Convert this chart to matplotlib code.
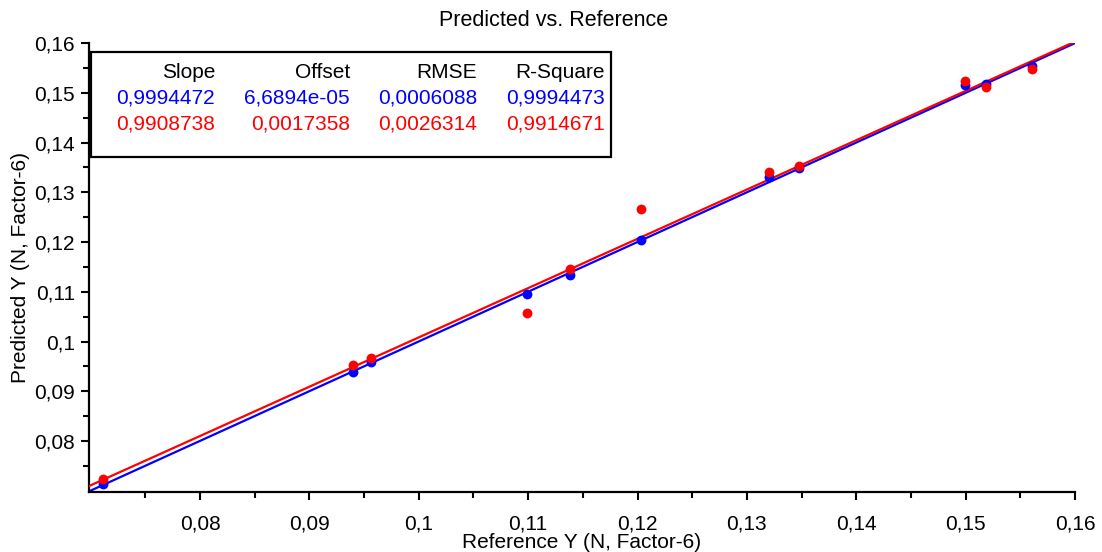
import numpy as np
import matplotlib.pyplot as plt
from matplotlib.patches import Rectangle
from matplotlib.ticker import FuncFormatter

plt.rcParams['font.family'] = ['Liberation Sans', 'DejaVu Sans']

# Reference vs predicted values
ref_y = [0.0711, 0.0940, 0.0956, 0.1099, 0.1138, 0.1203, 0.1320, 0.1348, 0.1499, 0.1519, 0.1561]
pred_blue = [0.0714, 0.0939, 0.0959, 0.1096, 0.1134, 0.1205, 0.1330, 0.1349, 0.1516, 0.1517, 0.1554]
pred_red = [0.0724, 0.0953, 0.0967, 0.1058, 0.1146, 0.1266, 0.1341, 0.1353, 0.1523, 0.1512, 0.1547]

# fit parameters (from the table)
slopes = [0.9994472, 0.9908738]
offsets = [6.6894e-05, 0.0017358]

col_headers = ['Slope', 'Offset', 'RMSE', 'R-Square']
row_blue = ['0,9994472', '6,6894e-05', '0,0006088', '0,9994473']
row_red = ['0,9908738', '0,0017358', '0,0026314', '0,9914671']

x_min, x_max = 0.06985, 0.16
y_min, y_max = 0.06975, 0.16

fig = plt.figure(figsize=(11.02, 5.52), dpi=100)
ax = fig.add_axes([89/1102, 1 - 492/552, (1075 - 89)/1102, (492 - 43)/552])

# fitted lines over full range
xx = np.array([x_min, x_max])
ax.plot(xx, slopes[0]*xx + offsets[0], color='blue', lw=1.6, zorder=2)
ax.plot(xx, slopes[1]*xx + offsets[1], color='red', lw=1.6, zorder=3)

ax.scatter(ref_y, pred_blue, s=50, color='blue', zorder=4, linewidths=0)
ax.scatter(ref_y, pred_red, s=50, color='red', zorder=5, linewidths=0)

ax.set_xlim(x_min, x_max)
ax.set_ylim(y_min, y_max)

major = np.round(np.arange(0.08, 0.1601, 0.01), 3)
minor = np.round(np.arange(0.075, 0.16, 0.01), 3)
ax.set_xticks(major)
ax.set_yticks(major)
ax.set_xticks(minor, minor=True)
ax.set_yticks(minor, minor=True)

comma = FuncFormatter(lambda v, p: ('%g' % v).replace('.', ','))
ax.xaxis.set_major_formatter(comma)
ax.yaxis.set_major_formatter(comma)

ax.tick_params(which='major', length=6, width=1.5, labelsize=15, direction='out')
ax.tick_params(which='minor', length=4, width=1.5, direction='out')
ax.tick_params(axis='x', pad=10)
ax.tick_params(axis='y', pad=4)

for s in ['top', 'right']:
    ax.spines[s].set_visible(False)
for s in ['left', 'bottom']:
    ax.spines[s].set_linewidth(1.6)

fig.text(554/1102, 1 - 26/552, 'Predicted vs. Reference', fontsize=15.5, ha='center', va='baseline')
ax.set_xlabel('Reference Y (N, Factor-6)', fontsize=15, labelpad=0)
ax.set_ylabel('Predicted Y (N, Factor-6)', fontsize=15, labelpad=3)

# stats table box
box = Rectangle((91/1102, 1 - 157/552), (611 - 91)/1102, (157 - 52)/552,
                transform=fig.transFigure, fill=True, facecolor='white',
                edgecolor='black', lw=1.6, zorder=6)
fig.patches.append(box)

col_right = [215, 350, 477, 605]
for i in range(4):
    xr = col_right[i]/1102
    fig.text(xr, 1 - 78/552, col_headers[i], ha='right', va='baseline', fontsize=15, color='black', zorder=7)
    fig.text(xr, 1 - 104/552, row_blue[i], ha='right', va='baseline', fontsize=15, color='blue', zorder=7)
    fig.text(xr, 1 - 130/552, row_red[i], ha='right', va='baseline', fontsize=15, color='red', zorder=7)

fig.savefig('out.png', dpi=100)
